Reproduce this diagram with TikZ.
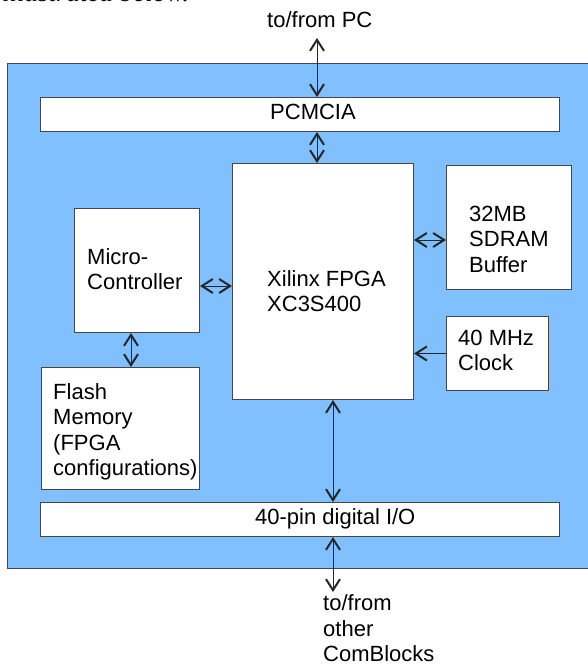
\documentclass[tikz,border=0pt]{standalone}
\usepackage{fontspec}
\setmainfont{Liberation Sans}
\newfontfamily\introfont{Liberation Serif}
\usetikzlibrary{arrows.meta,positioning}
\definecolor{boardblue}{RGB}{128,192,255}
\definecolor{edgegray}{RGB}{70,70,70}

\begin{document}
\begin{tikzpicture}[x=1pt,y=-1pt,
  blk/.style={draw=edgegray,fill=white,line width=1pt,anchor=north west,inner sep=0pt},
  txt/.style={anchor=base west,align=left,inner sep=0pt,font=\fontsize{22}{25.5}\selectfont},
  barb/.tip={Straight Barb[length=11pt,width=14pt,line width=2pt]},
  link/.style={draw=black!85,line width=0.9pt,barb-barb},
  feed/.style={draw=black!85,line width=0.9pt,-barb}]
\useasboundingbox (0,0) rectangle (588,665);
\clip (0,0) rectangle (588,665);
\node[anchor=base west,inner sep=0pt,font=\introfont\itshape\fontsize{27}{30}\selectfont] (intro) at (2,1.5) {illustrated below.};
% board
\draw[draw=edgegray,fill=boardblue,line width=1pt] (7,63.5) rectangle (600,568);
\node[blk,minimum width=519pt,minimum height=34pt] (pcmcia) at (40,97) {};
\node[blk,minimum width=181pt,minimum height=236pt] (fpga) at (232,163) {};
\node[blk,minimum width=125pt,minimum height=124pt] (sdram) at (446,165) {};
\node[blk,minimum width=102pt,minimum height=74pt] (clock) at (446,316) {};
\node[blk,minimum width=125pt,minimum height=124pt] (mcu) at (74,208) {};
\node[blk,minimum width=158pt,minimum height=122pt] (flash) at (41,367) {};
\node[blk,minimum width=519pt,minimum height=34pt] (io) at (40,502) {};
% labels (base = last line)
\node[txt] (pctxt) at (267,27) {to/from PC};
\node[txt] (pcmciatxt) at (270,119) {PCMCIA};
\node[txt] (fpgatxt) at (267,311.5) {Xilinx FPGA\\XC3S400};
\node[txt] (sdramtxt) at (469,272) {32MB\\SDRAM\\Buffer};
\node[txt] (clocktxt) at (458,370.5) {40 MHz\\Clock};
\node[txt] (mcutxt) at (87,289.5) {Micro-\\Controller};
\node[txt] (flashtxt) at (53,475.5) {Flash\\Memory\\(FPGA\\configurations)};
\node[txt] (iotxt) at (255,524) {40-pin digital I/O};
\node[txt] (cbtxt) at (323,661.5) {to/from\\other\\ComBlocks};
% connectors
\coordinate (busx) at (317,0);
\coordinate (iox) at (333,0);
\coordinate (flx) at (131,0);
\coordinate (mcuy) at (0,286);
\coordinate (ramy) at (0,240);
\coordinate (pcend) at (317,38);
\coordinate (cbend) at (333,592);
\draw[link] (pcend) -- (pcmcia.north -| pcend);
\draw[link] (pcmcia.south -| busx) -- (fpga.north -| busx);
\draw[link] (mcuy -| mcu.east) -- (mcuy -| fpga.west);
\draw[link] (mcu.south -| flx) -- (flash.north -| flx);
\draw[link] (ramy -| fpga.east) -- (ramy -| sdram.west);
\draw[feed] (clock.west) -- (clock.west -| fpga.east);
\draw[link] (fpga.south -| iox) -- (io.north -| iox);
\draw[link] (io.south -| iox) -- (cbend);
\end{tikzpicture}
\end{document}
